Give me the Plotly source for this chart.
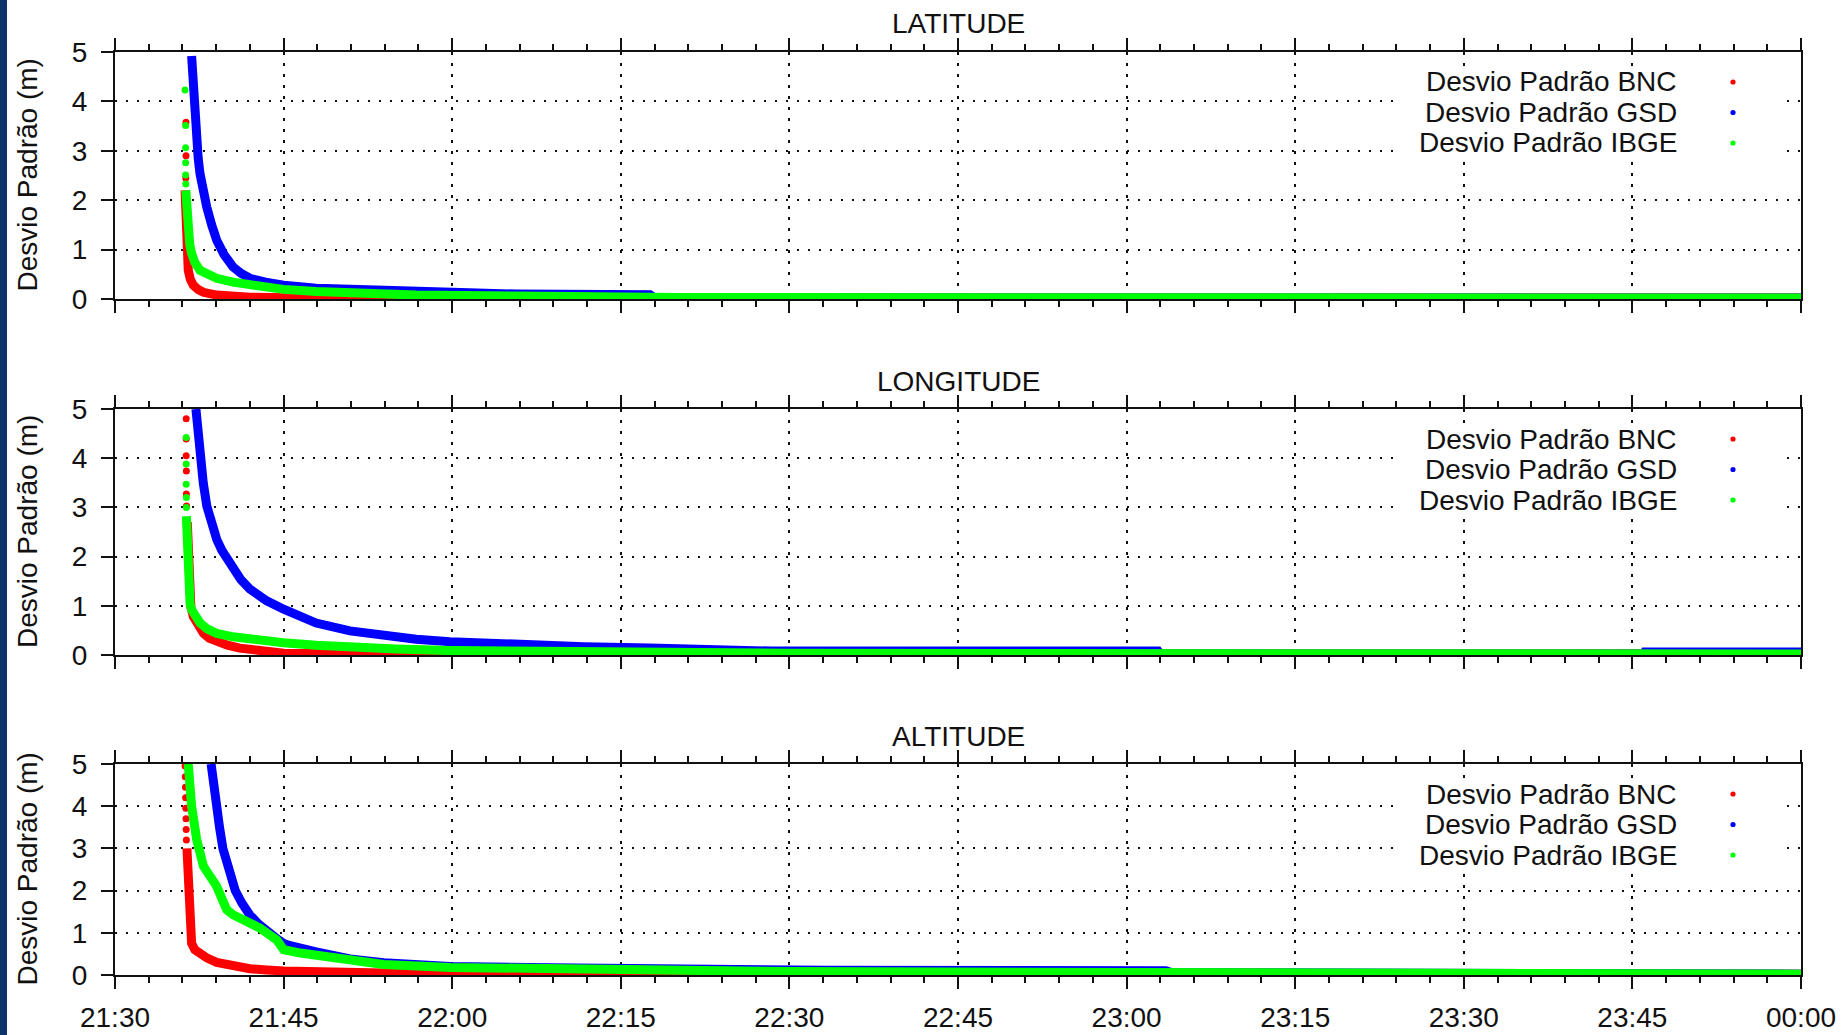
import plotly.graph_objects as go

# ---------------------------------------------------------------------------
# Standard deviation (m) of the position solution, per component and stream
# Times are HH:MM:SS on the evening of the session (00:00:00 = next day)
# ---------------------------------------------------------------------------
series_names = ["Desvio Padrão BNC", "Desvio Padrão GSD", "Desvio Padrão IBGE"]
series_colors = ["#ff0000", "#0000ff", "#00ff00"]
panel_titles = ["LATITUDE", "LONGITUDE", "ALTITUDE"]
tick_labels = ["21:30", "21:45", "22:00", "22:15", "22:30", "22:45",
               "23:00", "23:15", "23:30", "23:45", "00:00"]

# --- LATITUDE ---------------------------------------------------------------
lat_bnc_early_t = ["21:36:19", "21:36:19", "21:36:18"]
lat_bnc_early_v = [3.58, 2.90, 2.45]
lat_bnc_t = ["21:36:14", "21:36:21", "21:36:27", "21:36:31", "21:36:42", "21:36:58",
             "21:37:24", "21:37:52", "21:39:03", "21:40:30", "21:42:00", "21:50:00",
             "22:19:36", "22:20:00", "00:00:00"]
lat_bnc_v = [2.2, 1.2, 0.85, 0.58, 0.4, 0.28, 0.19, 0.135, 0.08, 0.05, 0.035, 0.01,
             0.0, 0.02, 0.02]

lat_gsd_early_t = []
lat_gsd_early_v = []
lat_gsd_t = ["21:36:49", "21:36:54", "21:36:58", "21:37:06", "21:37:16", "21:37:24",
             "21:37:34", "21:37:48", "21:38:10", "21:38:36", "21:39:03", "21:39:42",
             "21:40:30", "21:41:12", "21:42:00", "21:43:24", "21:45:00", "21:47:54",
             "21:50:54", "21:53:54", "21:59:48", "22:01:30", "22:05:42", "22:17:36",
             "22:18:00", "00:00:00"]
lat_gsd_v = [4.92, 4.55, 4.2, 3.7, 3.2, 2.85, 2.53, 2.2, 1.86, 1.5, 1.19, 0.9,
             0.65, 0.52, 0.42, 0.34, 0.28, 0.22, 0.19, 0.17, 0.135, 0.125, 0.1, 0.085,
             0.02, 0.02]

lat_ibge_early_t = ["21:36:14", "21:36:17", "21:36:17", "21:36:17", "21:36:17", "21:36:18"]
lat_ibge_early_v = [4.23, 3.51, 3.06, 2.76, 2.51, 2.33]
lat_ibge_t = ["21:36:18", "21:36:24", "21:36:31", "21:36:39", "21:36:49", "21:37:06",
              "21:37:34", "21:38:12", "21:39:03", "21:40:30", "21:42:00", "21:45:00",
              "21:47:54", "21:50:54", "21:56:48", "22:05:42", "22:20:00", "00:00:00"]
lat_ibge_v = [2.2, 1.6, 1.32, 1.1, 0.92, 0.74, 0.58, 0.49, 0.42, 0.34, 0.28, 0.195,
              0.15, 0.115, 0.08, 0.06, 0.03, 0.02]

# --- LONGITUDE --------------------------------------------------------------
lon_bnc_early_t = ["21:36:20", "21:36:20", "21:36:20", "21:36:21", "21:36:21", "21:36:22"]
lon_bnc_early_v = [4.8, 4.39, 4.05, 3.74, 3.27, 3.03]
lon_bnc_t = ["21:36:26", "21:36:38", "21:36:45", "21:36:58", "21:37:24", "21:37:52",
             "21:38:24", "21:39:03", "21:40:00", "21:41:06", "21:43:00", "21:45:00",
             "21:55:00", "22:18:24", "22:19:00", "00:00:00"]
lon_bnc_v = [2.7, 1.19, 0.98, 0.78, 0.58, 0.44, 0.34, 0.27, 0.2, 0.14, 0.08, 0.035,
             0.01, 0.0, 0.02, 0.02]

lon_gsd_early_t = []
lon_gsd_early_v = []
lon_gsd_t = ["21:37:12", "21:37:23", "21:37:34", "21:37:51", "21:38:10", "21:38:36",
             "21:39:03", "21:39:30", "21:40:00", "21:40:30", "21:41:12", "21:42:00",
             "21:43:30", "21:45:00", "21:46:24", "21:47:54", "21:50:54", "21:53:54",
             "21:56:48", "21:59:48", "22:05:42", "22:11:42", "22:17:36", "22:28:18",
             "22:28:24", "23:02:48", "23:03:00", "23:46:00", "23:46:06", "00:00:00"]
lon_gsd_v = [5.0, 4.5, 4.05, 3.5, 3.03, 2.65, 2.35, 2.13, 1.95, 1.76, 1.53, 1.34,
             1.1, 0.93, 0.78, 0.65, 0.49, 0.39, 0.32, 0.27, 0.2, 0.17, 0.14, 0.11,
             0.08, 0.08, 0.02, 0.02, 0.06, 0.06]

lon_ibge_early_t = ["21:36:20", "21:36:20", "21:36:20", "21:36:21", "21:36:21"]
lon_ibge_early_v = [4.42, 3.88, 3.47, 3.2, 3.0]
lon_ibge_t = ["21:36:21", "21:36:27", "21:36:33", "21:36:41", "21:36:49", "21:37:09",
              "21:37:34", "21:38:12", "21:39:03", "21:40:30", "21:42:00", "21:45:00",
              "21:47:54", "21:50:54", "21:55:00", "21:59:48", "22:11:42", "22:30:00",
              "00:00:00"]
lon_ibge_v = [2.82, 1.6, 1.19, 1.03, 0.92, 0.77, 0.65, 0.53, 0.44, 0.37, 0.32, 0.25,
              0.2, 0.16, 0.12, 0.09, 0.055, 0.035, 0.02]

# --- ALTITUDE ---------------------------------------------------------------
alt_bnc_early_t = ["21:36:14", "21:36:15", "21:36:16", "21:36:17", "21:36:18",
                   "21:36:19", "21:36:20", "21:36:21"]
alt_bnc_early_v = [4.95, 4.7, 4.45, 4.2, 3.95, 3.7, 3.45, 3.2]
alt_bnc_t = ["21:36:24", "21:36:33", "21:36:37", "21:36:42", "21:36:49", "21:37:06",
             "21:37:34", "21:38:12", "21:39:03", "21:40:30", "21:42:00", "21:43:30",
             "21:45:00", "21:53:54", "22:05:00", "22:18:00", "22:19:00", "00:00:00"]
alt_bnc_v = [3.0, 1.6, 1.03, 0.88, 0.75, 0.6, 0.5, 0.4, 0.3, 0.22, 0.15, 0.12,
             0.095, 0.05, 0.03, 0.02, 0.04, 0.02]

alt_gsd_early_t = []
alt_gsd_early_v = []
alt_gsd_t = ["21:38:33", "21:38:45", "21:39:00", "21:39:18", "21:39:36", "21:40:06",
             "21:40:42", "21:41:18", "21:42:00", "21:42:48", "21:43:36", "21:44:18",
             "21:45:00", "21:45:30", "21:47:54", "21:50:54", "21:53:54", "21:59:48",
             "22:08:42", "22:15:00", "22:18:00", "22:20:00", "22:33:00", "22:33:12",
             "23:03:30", "23:04:00", "00:00:00"]
alt_gsd_v = [5.0, 4.5, 4.0, 3.5, 3.0, 2.5, 2.0, 1.7, 1.42, 1.2, 1.0, 0.88,
             0.75, 0.7, 0.55, 0.38, 0.29, 0.2, 0.17, 0.15, 0.14, 0.1, 0.08, 0.11,
             0.1, 0.06, 0.02]

alt_ibge_early_t = []
alt_ibge_early_v = []
alt_ibge_t = ["21:36:31", "21:36:49", "21:37:16", "21:37:52", "21:39:03", "21:39:56",
              "21:40:30", "21:42:54", "21:44:24", "21:45:00", "21:46:30", "21:49:24",
              "21:50:54", "21:53:54", "21:59:48", "22:08:42", "22:17:36", "22:30:00",
              "23:00:00", "23:20:00", "00:00:00"]
alt_ibge_v = [5.0, 4.0, 3.21, 2.58, 2.1, 1.55, 1.43, 1.11, 0.83, 0.6, 0.52, 0.42,
              0.32, 0.25, 0.18, 0.14, 0.11, 0.08, 0.06, 0.04, 0.02]

panels = [
    [(lat_bnc_t, lat_bnc_v, lat_bnc_early_t, lat_bnc_early_v),
     (lat_gsd_t, lat_gsd_v, lat_gsd_early_t, lat_gsd_early_v),
     (lat_ibge_t, lat_ibge_v, lat_ibge_early_t, lat_ibge_early_v)],
    [(lon_bnc_t, lon_bnc_v, lon_bnc_early_t, lon_bnc_early_v),
     (lon_gsd_t, lon_gsd_v, lon_gsd_early_t, lon_gsd_early_v),
     (lon_ibge_t, lon_ibge_v, lon_ibge_early_t, lon_ibge_early_v)],
    [(alt_bnc_t, alt_bnc_v, alt_bnc_early_t, alt_bnc_early_v),
     (alt_gsd_t, alt_gsd_v, alt_gsd_early_t, alt_gsd_early_v),
     (alt_ibge_t, alt_ibge_v, alt_ibge_early_t, alt_ibge_early_v)],
]


def stamp(t):
    """Put a clock time on the session's calendar (after midnight = next day)."""
    hour = int(t.split(":")[0])
    day = "2014-01-01" if hour >= 12 else "2014-01-02"
    return f"{day} {t}"


# ---------------------------------------------------------------------------
# Layout geometry (pixels on a 1841 x 1035 page)
# ---------------------------------------------------------------------------
W, H = 1841, 1035
PLOT_LEFT, PLOT_RIGHT = 115, 1801
PANEL_BOUNDS = [(52, 299), (409, 655), (764, 975)]   # (top, bottom)
FONT = "Liberation Sans, Arial, sans-serif"
FS = 28

fig = go.Figure()

for p, series in enumerate(panels):
    ax = "" if p == 0 else str(p + 1)
    for s, (t, v, et, ev) in enumerate(series):
        fig.add_trace(go.Scatter(
            x=[stamp(x) for x in t], y=v, mode="lines",
            line=dict(color=series_colors[s], width=9),
            xaxis="x" + ax, yaxis="y" + ax, showlegend=False,
            name=series_names[s]))
        if et:
            fig.add_trace(go.Scatter(
                x=[stamp(x) for x in et], y=ev, mode="markers",
                marker=dict(color=series_colors[s], size=7, line=dict(width=0)),
                xaxis="x" + ax, yaxis="y" + ax, showlegend=False,
                name=series_names[s]))

x_range = [stamp("21:30:00"), stamp("00:00:00")]
tick_vals = [stamp(t + ":00") for t in tick_labels]

layout = dict(
    template="none",
    width=W, height=H, autosize=False,
    margin=dict(l=0, r=0, t=0, b=0, pad=0, autoexpand=False),
    paper_bgcolor="white", plot_bgcolor="white",
    font=dict(family=FONT, size=FS, color="#111111"),
    showlegend=False,
)

shapes = []
annotations = []

# dark band on the page's left edge
shapes.append(dict(type="rect", xref="paper", yref="paper", x0=0, x1=7 / W, y0=0, y1=1,
                   fillcolor="#0c3468", line=dict(width=0), layer="above"))

x_dom = [PLOT_LEFT / W, PLOT_RIGHT / W]
plot_w = PLOT_RIGHT - PLOT_LEFT

for p, (top, bottom) in enumerate(PANEL_BOUNDS):
    ax = "" if p == 0 else str(p + 1)
    ph = bottom - top
    y_dom = [1 - bottom / H, 1 - top / H]
    layout["xaxis" + ax] = dict(
        domain=x_dom, anchor="y" + ax, type="date", range=x_range, automargin=False,
        tickmode="array", tickvals=tick_vals, ticktext=tick_labels,
        showticklabels=(p == 2), ticks="outside", ticklen=12, tickwidth=2,
        tickcolor="#111111", ticklabelstandoff=4,
        minor=dict(dtick=180000, tick0=stamp("21:30:00"), ticks="outside",
                   ticklen=6, tickwidth=1.5, tickcolor="#111111", showgrid=False),
        showline=True, linewidth=2, linecolor="#111111", mirror="allticks",
        showgrid=True, gridcolor="#111111", gridwidth=1.5, griddash="3px,8px",
        zeroline=False, tickfont=dict(size=FS),
    )
    layout["yaxis" + ax] = dict(
        domain=y_dom, anchor="x" + ax, range=[0, 5], tickvals=[0, 1, 2, 3, 4, 5],
        automargin=False,
        ticks="outside", ticklen=12, tickwidth=2, tickcolor="#111111",
        ticklabelstandoff=8,
        showline=True, linewidth=2, linecolor="#111111", mirror=True,
        showgrid=True, gridcolor="#111111", gridwidth=1.5, griddash="2px,9px",
        zeroline=False, tickfont=dict(size=FS),
    )

    xd, yd = "x" + ax + " domain", "y" + ax + " domain"

    # panel title
    annotations.append(dict(text=panel_titles[p], xref=xd, yref=yd, x=0.5,
                            y=1 + 28 / ph, xanchor="center", yanchor="middle",
                            showarrow=False, font=dict(size=FS)))
    # y-axis title
    annotations.append(dict(text="Desvio Padrão (m)", xref="paper", yref=yd,
                            x=27 / W, y=0.5, textangle=-90, xanchor="center",
                            yanchor="middle", showarrow=False, font=dict(size=FS)))

    # key: white box masking the grid, right-justified labels, sample dots
    shapes.append(dict(type="rect", xref=xd, yref=yd,
                       x0=(1398 - PLOT_LEFT) / plot_w, x1=(1786 - PLOT_LEFT) / plot_w,
                       y0=1 - 105 / ph, y1=1 - 14 / ph,
                       fillcolor="white", line=dict(width=0), layer="above"))
    for s, name in enumerate(series_names):
        row_y = 1 - (30 + 30.5 * s) / ph
        annotations.append(dict(text=name, xref=xd, yref=yd,
                                x=(1679 - PLOT_LEFT) / plot_w, y=row_y,
                                xanchor="right", yanchor="middle", showarrow=False,
                                font=dict(size=FS)))
        cx = (1733 - PLOT_LEFT) / plot_w
        r = 2.6
        shapes.append(dict(type="circle", xref=xd, yref=yd,
                           x0=cx - r / plot_w, x1=cx + r / plot_w,
                           y0=row_y - r / ph, y1=row_y + r / ph,
                           fillcolor=series_colors[s], line=dict(width=0),
                           layer="above"))

layout["shapes"] = shapes
layout["annotations"] = annotations
fig.update_layout(**layout)

fig.write_html("out.html")
